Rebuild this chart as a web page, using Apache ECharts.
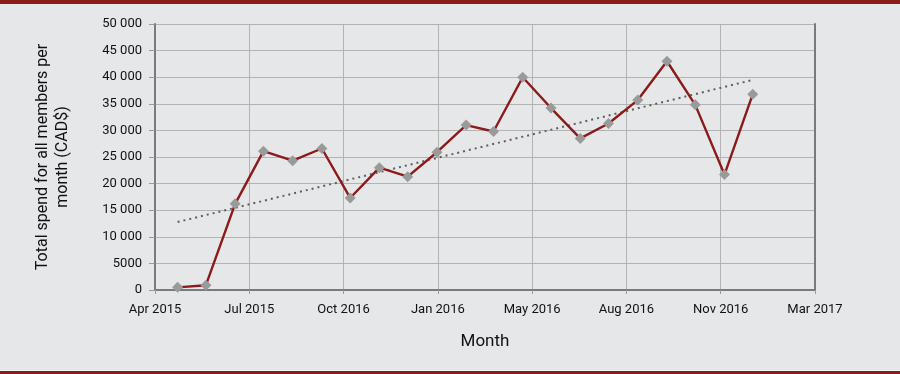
<!DOCTYPE html>
<html>
<head>
<meta charset="utf-8">
<script src="https://cdn.jsdelivr.net/npm/echarts@6/dist/echarts.min.js"></script>
<style>
html,body{margin:0;padding:0;background:#e6e7e8;}
#wrap{position:relative;width:900px;height:374px;background:#e6e7e8;}
#topbar{position:absolute;left:0;top:0;width:900px;height:4px;background:#8b1a1a;}
#botbar{position:absolute;left:0;top:370px;width:900px;height:4px;background:#8b1a1a;border-top:1px solid #f4f4f4;box-sizing:content-box;}
#chart{position:absolute;left:0;top:0;width:900px;height:374px;}
</style>
</head>
<body>
<div id="wrap">
<div id="chart"></div>
<div id="topbar"></div>
<div id="botbar"></div>
</div>
<script>
// Data
var months = ['2015-04','2015-05','2015-06','2015-07','2015-08','2015-09','2015-10','2015-11','2015-12',
  '2016-01','2016-02','2016-03','2016-04','2016-05','2016-06','2016-07','2016-08','2016-09','2016-10','2016-11','2016-12'];
var spend = [500, 900, 16200, 26100, 24300, 26600, 17300, 23000, 21300,
  25900, 31000, 29800, 40000, 34200, 28500, 31300, 35700, 43000, 34800, 21700, 36800];
var xTickLabels = ['Apr 2015','Jul 2015','Oct 2016','Jan 2016','May 2016','Aug 2016','Nov 2016','Mar 2017'];
var yTickLabels = ['0','5000','10 000','15 000','20 000','25 000','30 000','35 000','40 000','45 000','50 000'];
var axisStart = '2015-03-08';   // date at the left end of the date axis
var xStepDays = 100;            // Excel date axis major unit (days)

var DAY = 86400000;
var t0 = Date.parse(axisStart + 'T00:00:00Z');
function dayOf(m){ return (Date.parse(m + '-01T00:00:00Z') - t0) / DAY; }
var pts = months.map(function(m,i){ return [dayOf(m), spend[i]]; });

// linear trendline (least squares on the data)
var n = pts.length, sx=0, sy=0, sxx=0, sxy=0;
pts.forEach(function(p){ sx+=p[0]; sy+=p[1]; sxx+=p[0]*p[0]; sxy+=p[0]*p[1]; });
var slope = (n*sxy - sx*sy)/(n*sxx - sx*sx);
var icpt = (sy - slope*sx)/n;
var xa = pts[0][0], xb = pts[n-1][0];
var trend = [[xa, icpt + slope*xa],[xb, icpt + slope*xb]];

var FONT = "'Liberation Sans Narrow','Roboto','Liberation Sans',sans-serif";
var chart = echarts.init(document.getElementById('chart'), null, {renderer:'canvas'});
chart.setOption({
  backgroundColor: 'transparent',
  animation: false,
  grid: {left:155, right:85, top:24, bottom:84},
  xAxis: {
    type:'value', min:0, max:xStepDays*(xTickLabels.length-1), interval:xStepDays,
    axisLine:{show:true, lineStyle:{color:'#7a7a7a', width:2}},
    axisTick:{show:true, length:4, lineStyle:{color:'#9a9a9a'}},
    splitLine:{show:true, lineStyle:{color:'#b3b3b3', width:1}},
    axisLabel:{color:'#111', fontFamily:FONT, fontSize:13, margin:13,
      formatter:function(v){ return xTickLabels[Math.round(v/xStepDays)]; }},
    name:'Month', nameLocation:'middle', nameGap:43,
    nameTextStyle:{color:'#111', fontFamily:FONT, fontSize:17}
  },
  yAxis: [{
    type:'value', min:0, max:50000, interval:5000,
    axisLine:{show:true, lineStyle:{color:'#7a7a7a', width:2}},
    axisTick:{show:true, length:6, lineStyle:{color:'#9a9a9a'}},
    splitLine:{show:true, lineStyle:{color:'#b3b3b3', width:1}},
    axisLabel:{color:'#111', fontFamily:FONT, fontSize:13, margin:13,
      formatter:function(v){ return yTickLabels[Math.round(v/5000)]; }},
    name:'Total spend for all members per\nmonth (CAD$)', nameLocation:'middle', nameGap:82, nameRotate:90,
    nameTextStyle:{color:'#111', fontFamily:FONT, fontSize:16, lineHeight:20, align:'center'}
  },{
    type:'value', min:0, max:50000, position:'right',
    axisLine:{show:true, lineStyle:{color:'#7a7a7a', width:2}},
    axisTick:{show:false}, axisLabel:{show:false}, splitLine:{show:false}
  }],
  series: [{
    type:'line', data:pts,
    lineStyle:{color:'#8b1a1a', width:2.4},
    symbol:'diamond', symbolSize:11,
    itemStyle:{color:'#9a9a9a'},
    z:3
  },{
    type:'line', data:trend, symbol:'none',
    lineStyle:{color:'#5e5e5e', width:2, type:[2,4]},
    z:2
  }]
});
</script>
</body>
</html>
